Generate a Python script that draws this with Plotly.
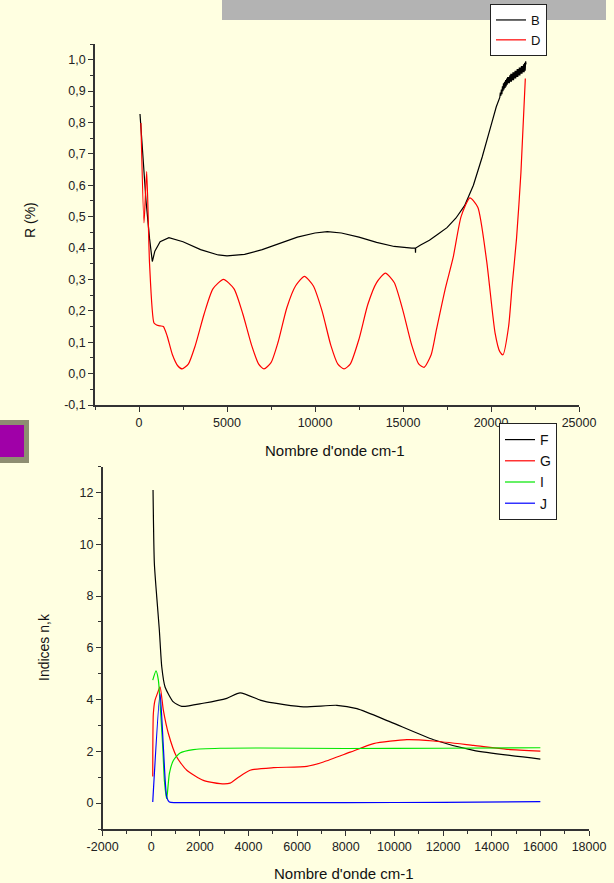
import plotly.graph_objects as go

# ---------------- Top chart: reflectance ----------------
b_x = [57, 200, 400, 600, 757, 900, 1200, 1700, 2500, 3500, 4500, 5000, 6000, 7000, 8000,
       9000, 10000, 10700, 11500, 12500, 13500, 14500, 15500, 15700, 15710, 15720, 16000,
       16500, 17000, 17500, 18000, 18500, 19000, 19500, 20000, 20300, 20500,
       20530, 20560, 20590, 20620, 20650, 20680, 20710, 20740, 20770, 20800, 20830, 20860,
       20890, 20920, 20950, 20980, 21010, 21040, 21070, 21100, 21130, 21160, 21190, 21220,
       21250, 21280, 21310, 21340, 21370, 21400, 21430, 21460, 21490, 21520, 21550, 21580,
       21610, 21640, 21670, 21700, 21730, 21760, 21790, 21820, 21850, 21880, 21910, 21940,
       21970, 21990]
b_y = [0.827, 0.70, 0.55, 0.43, 0.357, 0.39, 0.42, 0.433, 0.42, 0.395, 0.378, 0.375, 0.38, 0.395, 0.415,
       0.435, 0.448, 0.452, 0.448, 0.435, 0.418, 0.405, 0.40, 0.40, 0.385, 0.40, 0.41,
       0.425, 0.445, 0.465, 0.495, 0.535, 0.60, 0.69, 0.79, 0.85, 0.88,
       0.895, 0.885, 0.905, 0.89, 0.915, 0.90, 0.925, 0.905, 0.93, 0.91, 0.935, 0.915,
       0.94, 0.92, 0.945, 0.925, 0.945, 0.925, 0.95, 0.93, 0.955, 0.93, 0.955, 0.935,
       0.96, 0.935, 0.96, 0.94, 0.965, 0.94, 0.965, 0.945, 0.97, 0.945, 0.97, 0.95,
       0.975, 0.95, 0.975, 0.955, 0.98, 0.955, 0.98, 0.96, 0.985, 0.96, 0.99, 0.965,
       0.995, 0.985]

d_x = [110, 284, 437, 600, 852, 1000, 1200, 1383, 1600, 1900, 2200, 2450, 2800, 3200, 3700,
       4200, 4800, 5400, 5900, 6400, 6800, 7100, 7500, 7900, 8400, 8900, 9400, 9900, 10400,
       10900, 11300, 11650, 12000, 12500, 13000, 13500, 14000, 14500, 15000, 15500, 15900,
       16200, 16600, 16900, 17400, 17850, 18300, 18800, 19250, 19750, 20230, 20500, 20680,
       21000, 21200, 21450, 21700, 21950]
d_y = [0.798, 0.48, 0.644, 0.35, 0.161, 0.155, 0.152, 0.15, 0.12, 0.06, 0.025, 0.015, 0.03, 0.09, 0.19,
       0.27, 0.30, 0.27, 0.19, 0.09, 0.03, 0.015, 0.035, 0.10, 0.21, 0.28, 0.31, 0.28, 0.20,
       0.09, 0.03, 0.015, 0.03, 0.11, 0.22, 0.29, 0.32, 0.29, 0.20, 0.09, 0.03,
       0.02, 0.06, 0.14, 0.27, 0.37, 0.50, 0.56, 0.53, 0.36, 0.13, 0.07, 0.06,
       0.15, 0.28, 0.43, 0.64, 0.94]

# ---------------- Bottom chart: indices n,k ----------------
f_x = [74, 128, 226, 333, 432, 568, 909, 1255, 2132, 3107, 3654, 4477, 4753, 6259, 7633,
       8456, 9827, 11608, 13254, 16000]
f_y = [12.1, 9.27, 7.97, 6.69, 5.27, 4.49, 3.91, 3.74, 3.86, 4.05, 4.26, 3.98, 3.91, 3.72, 3.78,
       3.65, 3.14, 2.45, 2.04, 1.70]

g_x = [62, 87, 156, 251, 362, 498, 704, 1049, 1461, 2144, 2831, 3243, 3586, 4065, 5025, 6399,
       7082, 8181, 9140, 10514, 11608, 13254, 14629, 16000]
g_y = [1.03, 3.46, 3.98, 4.23, 4.49, 3.59, 2.69, 1.78, 1.27, 0.88, 0.75, 0.77, 1.0, 1.27, 1.37, 1.42,
       1.59, 1.97, 2.30, 2.45, 2.40, 2.23, 2.08, 2.01]

i_x = [62, 197, 293, 390, 473, 540, 609, 638, 745, 909, 1185, 1732, 2831, 4477, 8000, 12000, 16000]
i_y = [4.75, 5.11, 4.75, 3.46, 2.17, 0.88, 0.30, 0.17, 1.14, 1.65, 1.94, 2.07, 2.12, 2.13, 2.11, 2.12, 2.14]

j_x = [62, 362, 498, 638, 745, 1000, 4000, 8000, 12000, 16000]
j_y = [0.04, 4.23, 2.17, 0.23, 0.04, 0.02, 0.02, 0.02, 0.03, 0.06]

top_xticks = [0, 5000, 10000, 15000, 20000, 25000]
top_xlabels = ["0", "5000", "10000", "15000", "20000", "25000"]
top_yticks = [-0.1, 0.0, 0.1, 0.2, 0.3, 0.4, 0.5, 0.6, 0.7, 0.8, 0.9, 1.0]
top_ylabels = ["-0,1", "0,0", "0,1", "0,2", "0,3", "0,4", "0,5", "0,6", "0,7", "0,8", "0,9", "1,0"]
bot_xticks = [-2000, 0, 2000, 4000, 6000, 8000, 10000, 12000, 14000, 16000, 18000]
bot_xlabels = ["-2000", "0", "2000", "4000", "6000", "8000", "10000", "12000", "14000", "16000", "18000"]
bot_yticks = [0, 2, 4, 6, 8, 10, 12]
bot_ylabels = ["0", "2", "4", "6", "8", "10", "12"]

BG = "#FFFFE1"
AX = "#333333"
FONT = "Liberation Sans, Arial, sans-serif"
W, H = 614, 883

fig = go.Figure()
lw = 1.2
fig.add_trace(go.Scatter(x=b_x, y=b_y, name="B", mode="lines", line=dict(color="black", width=lw),
                         xaxis="x", yaxis="y", legend="legend"))
fig.add_trace(go.Scatter(x=d_x, y=d_y, name="D", mode="lines", line=dict(color="#FF0000", width=lw, shape="spline", smoothing=0.6),
                         xaxis="x", yaxis="y", legend="legend"))
fig.add_trace(go.Scatter(x=f_x, y=f_y, name="F", mode="lines", line=dict(color="black", width=lw, shape="spline", smoothing=0.6),
                         xaxis="x2", yaxis="y2", legend="legend2"))
fig.add_trace(go.Scatter(x=g_x, y=g_y, name="G", mode="lines", line=dict(color="#FF0000", width=lw, shape="spline", smoothing=0.6),
                         xaxis="x2", yaxis="y2", legend="legend2"))
fig.add_trace(go.Scatter(x=i_x, y=i_y, name="I", mode="lines", line=dict(color="#00E600", width=lw, shape="spline", smoothing=0.6),
                         xaxis="x2", yaxis="y2", legend="legend2"))
fig.add_trace(go.Scatter(x=j_x, y=j_y, name="J", mode="lines", line=dict(color="#0000FF", width=lw, shape="spline", smoothing=0.6),
                         xaxis="x2", yaxis="y2", legend="legend2"))

def px(xp):
    return xp / W

def py(yp):
    return 1 - yp / H

axis_common = dict(showline=True, linecolor=AX, linewidth=1.5, ticks="outside", ticklen=5,
                   tickcolor=AX, tickwidth=1.2, showgrid=False, zeroline=False, automargin=False,
                   tickfont=dict(family=FONT, size=12.5, color="#222222"), mirror=False)

fig.update_layout(
    template="none",
    width=W, height=H,
    margin=dict(l=0, r=0, t=0, b=0, pad=0, autoexpand=False),
    paper_bgcolor=BG, plot_bgcolor=BG,
    font=dict(family=FONT, color="#222222"),
    xaxis=dict(domain=[px(95), px(579)], range=[-2500, 25000], anchor="y",
               tickmode="array", tickvals=top_xticks, ticktext=top_xlabels,
               minor=dict(dtick=2500, ticks="outside", ticklen=3, tickcolor=AX, showgrid=False), **axis_common),
    yaxis=dict(domain=[py(405), py(44)], range=[-0.1, 1.05], anchor="x",
               tickmode="array", tickvals=top_yticks, ticktext=top_ylabels,
               minor=dict(dtick=0.05, tick0=0, ticks="outside", ticklen=3, tickcolor=AX, showgrid=False), **axis_common),
    xaxis2=dict(domain=[px(102.6), px(589)], range=[-2000, 18000], anchor="y2",
                tickmode="array", tickvals=bot_xticks, ticktext=bot_xlabels,
                minor=dict(dtick=1000, ticks="outside", ticklen=3, tickcolor=AX, showgrid=False), **axis_common),
    yaxis2=dict(domain=[py(829), py(466.7)], range=[-1, 13], anchor="x2",
                tickmode="array", tickvals=bot_yticks, ticktext=bot_ylabels,
                minor=dict(dtick=1, tick0=0, ticks="outside", ticklen=3, tickcolor=AX, showgrid=False), **axis_common),
    legend=dict(x=px(490), y=py(4), xanchor="left", yanchor="top", bgcolor="white",
                bordercolor="#222222", borderwidth=1, font=dict(family=FONT, size=13, color="#111"),
                itemwidth=30, tracegroupgap=0),
    legend2=dict(x=px(499), y=py(423), xanchor="left", yanchor="top", bgcolor="white",
                 bordercolor="#222222", borderwidth=1, font=dict(family=FONT, size=14, color="#111"),
                 itemwidth=30, tracegroupgap=0),
    showlegend=True,
    hovermode=False,
)

shapes = [
    dict(type="rect", xref="paper", yref="paper", x0=px(222), x1=px(606), y0=py(20), y1=py(0),
         fillcolor="#B3B3B3", line=dict(width=0), layer="below"),
    dict(type="rect", xref="paper", yref="paper", x0=px(0), x1=px(29), y0=py(463), y1=py(420),
         fillcolor="#8E8E72", line=dict(width=0), layer="below"),
    dict(type="rect", xref="paper", yref="paper", x0=px(0), x1=px(24), y0=py(457), y1=py(425),
         fillcolor="#A000A8", line=dict(width=0), layer="below"),
]
fig.update_layout(shapes=shapes)

xt_font = dict(family=FONT, size=15, color="#111")
yt_font = dict(family=FONT, size=14, color="#111")
annotations = [
    dict(text="Nombre d'onde cm-1", x=px(335), y=py(450), xref="paper", yref="paper",
         xanchor="center", yanchor="middle", showarrow=False, font=xt_font),
    dict(text="R (%)", x=px(30), y=py(220), xref="paper", yref="paper", textangle=-90,
         xanchor="center", yanchor="middle", showarrow=False, font=yt_font),
    dict(text="Nombre d'onde cm-1", x=px(344), y=py(873), xref="paper", yref="paper",
         xanchor="center", yanchor="middle", showarrow=False, font=xt_font),
    dict(text="Indices n,k", x=px(44), y=py(647), xref="paper", yref="paper", textangle=-90,
         xanchor="center", yanchor="middle", showarrow=False, font=yt_font),
]
fig.update_layout(annotations=annotations)

fig.write_html("out.html", config={"displayModeBar": False},
               post_script="document.body.style.margin='0';document.body.style.overflow='hidden';")
